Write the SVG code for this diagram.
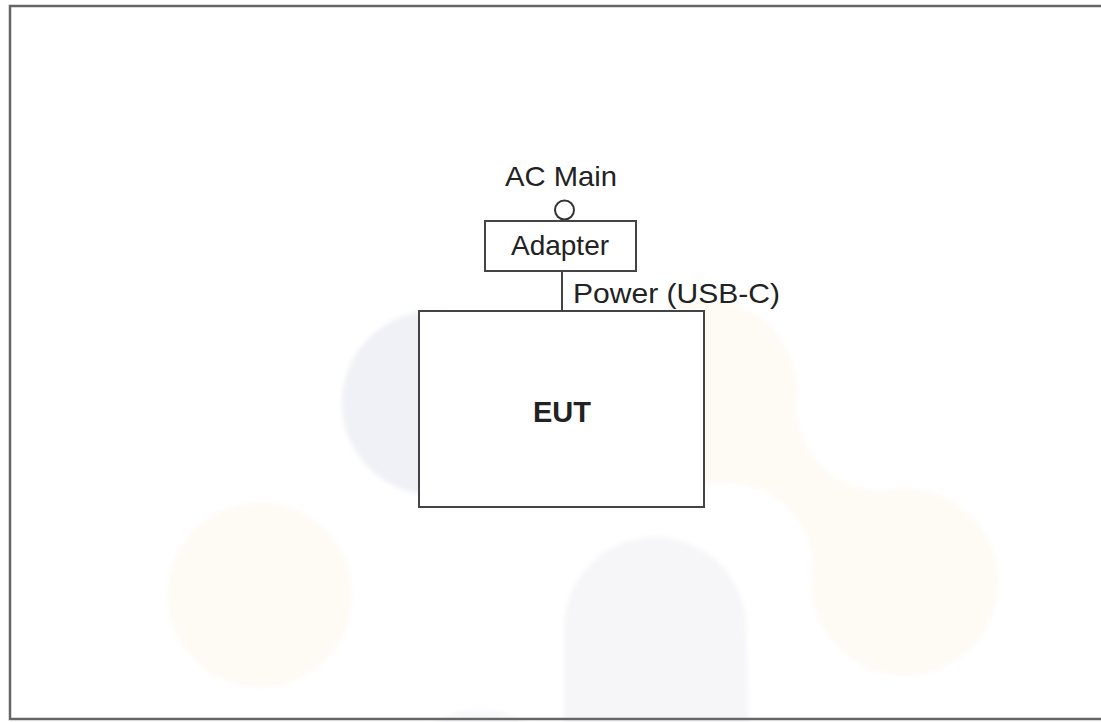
<svg xmlns="http://www.w3.org/2000/svg" width="1101" height="722" viewBox="0 0 1101 722">
<style>
.lbl{font-family:"Liberation Sans",Arial,sans-serif;font-size:28px;fill:#222}
.bold{font-weight:bold;font-size:29px}
.box{fill:#fff;stroke:#444;stroke-width:2}
.wire{stroke:#444;stroke-width:2;fill:none}
.peach{fill:#fefaf4}
.blue{fill:#f0f1f6}
.grey{fill:#f6f6f9}
</style>
<defs>
<filter id="soft" x="-10%" y="-10%" width="120%" height="120%"><feGaussianBlur stdDeviation="2.5"/></filter>
</defs>
<rect x="0" y="0" width="1101" height="722" fill="#fff"/>
<g id="background" filter="url(#soft)">
<circle class="blue" cx="434" cy="403" r="92"/>
<circle class="peach" cx="705" cy="392" r="92"/>
<circle class="peach" cx="905" cy="582" r="93"/>
<path class="peach" d="M793 366 Q785 506 927 492 L816 608 Q825 468 683 481 Z"/>
<circle class="peach" cx="260" cy="595" r="92"/>
<path class="grey" d="M564 722 L564 628 A91 91 0 0 1 746 628 L749 722 Z"/>
<circle fill="#f8f8fa" cx="480" cy="795" r="85"/>
</g>
<rect id="frame" x="10" y="6" width="1100" height="713" fill="none" stroke="#666" stroke-width="2.5"/>
<g id="connectors">
<line class="wire" x1="562" y1="271" x2="562" y2="311"/>
<text class="lbl" x="573" y="303" textLength="207" lengthAdjust="spacingAndGlyphs">Power (USB-C)</text>
</g>
<g id="ac-main">
<text class="lbl" x="561" y="186" text-anchor="middle" textLength="112" lengthAdjust="spacingAndGlyphs">AC Main</text>
<circle cx="564.5" cy="210" r="9.5" fill="#fff" stroke="#333" stroke-width="2"/>
</g>
<g id="adapter">
<rect class="box" x="485" y="221" width="151" height="50"/>
<text class="lbl" x="560" y="255" text-anchor="middle">Adapter</text>
</g>
<g id="eut">
<rect class="box" x="419" y="311" width="285" height="196"/>
<text class="lbl bold" x="562" y="422" text-anchor="middle">EUT</text>
</g>
</svg>
